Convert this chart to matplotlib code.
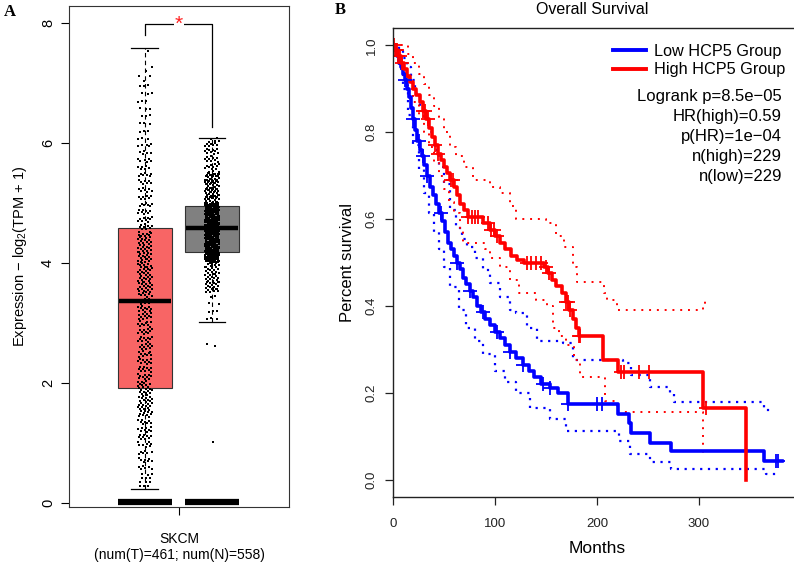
import matplotlib
matplotlib.use("Agg")
import matplotlib.pyplot as plt
from matplotlib.lines import Line2D
import numpy as np

plt.rcParams['font.family'] = ['Liberation Sans', 'DejaVu Sans']
plt.rcParams['mathtext.fontset'] = 'custom'
plt.rcParams['mathtext.rm'] = 'Liberation Sans'
plt.rcParams['mathtext.it'] = 'Liberation Sans:italic'

# ---------- panel A data (SKCM expression) ----------
groups = ['Tumor', 'Normal']
box_colors = ['#F86565', '#808080']
# q1, median, q3, whisker low, whisker high
tumor_stats = [1.92, 3.37, 4.58, 0.24, 7.58]
normal_stats = [4.18, 4.58, 4.95, 3.02, 6.08]
# binned point counts read from the jitter cloud
tumor_lo = [0.25, 0.5, 1.0, 1.5, 2.0, 2.5, 3.0, 3.5, 4.0, 4.5, 5.0, 5.5, 6.0, 6.5, 7.0, 7.5]
tumor_hi = [0.5, 1.0, 1.5, 2.0, 2.5, 3.0, 3.5, 4.0, 4.5, 5.0, 5.5, 6.0, 6.5, 7.0, 7.3, 7.58]
tumor_n = [12, 25, 35, 48, 40, 40, 42, 52, 52, 35, 28, 22, 12, 12, 5, 1]
normal_lo = [1.0, 2.6, 3.0, 3.5, 4.0, 4.5, 5.0, 5.5, 6.0]
normal_hi = [1.05, 2.75, 3.5, 4.0, 4.5, 5.0, 5.5, 6.0, 6.1]
normal_n = [1, 2, 10, 55, 170, 190, 85, 40, 5]

# ---------- panel B data (Kaplan-Meier) ----------
t_high = [0, 2, 5, 8, 11, 14, 17, 20, 23, 26, 29, 32, 35, 38, 41, 44, 47, 50, 53, 56, 60, 63, 66,
          70, 74, 88, 95, 100, 105, 110, 116, 122, 128, 148, 152, 156, 160, 166, 170, 173, 176,
          179, 182, 206, 221, 304, 346]
s_high = [1.0, 0.99, 0.975, 0.96, 0.945, 0.93, 0.915, 0.90, 0.885, 0.87, 0.85, 0.83, 0.81, 0.79,
          0.77, 0.75, 0.735, 0.72, 0.705, 0.69, 0.675, 0.655, 0.635, 0.62, 0.605, 0.59, 0.575,
          0.56, 0.545, 0.53, 0.515, 0.505, 0.50, 0.49, 0.475, 0.46, 0.445, 0.43, 0.41, 0.39, 0.37,
          0.35, 0.33, 0.275, 0.247, 0.166, 0.0]
t_low = [0, 2, 4, 6, 8, 10, 12, 14, 16, 18, 20, 22, 24, 26, 28, 30, 33, 36, 39, 42, 45, 48, 51,
         54, 57, 60, 63, 66, 69, 72, 75, 78, 82, 86, 90, 95, 100, 105, 110, 115, 121, 127, 133,
         138, 145, 154, 162, 172, 221, 231, 233, 252, 273, 364, 381]
s_low = [1.0, 0.99, 0.975, 0.96, 0.95, 0.935, 0.92, 0.90, 0.88, 0.855, 0.83, 0.805, 0.78, 0.76,
         0.745, 0.725, 0.70, 0.675, 0.655, 0.635, 0.615, 0.595, 0.57, 0.545, 0.53, 0.515, 0.50,
         0.485, 0.465, 0.45, 0.435, 0.42, 0.40, 0.385, 0.37, 0.355, 0.34, 0.325, 0.31, 0.295,
         0.28, 0.265, 0.25, 0.236, 0.22, 0.21, 0.20, 0.175, 0.152, 0.13, 0.108, 0.085, 0.065,
         0.044, 0.044]

t_high_up = [0, 10, 15, 20, 25, 30, 35, 40, 45, 50, 56, 62, 70, 78, 95, 105, 115, 121, 150, 160,
             168, 176, 180, 207, 210, 220, 304, 306, 308]
s_high_up = [1.0, 1.0, 0.98, 0.96, 0.935, 0.91, 0.885, 0.86, 0.835, 0.80, 0.765, 0.745, 0.72,
             0.69, 0.675, 0.66, 0.63, 0.60, 0.59, 0.56, 0.536, 0.49, 0.455, 0.43, 0.413, 0.39,
             0.40, 0.413, 0.413]
t_high_lo = [0, 3, 6, 10, 15, 20, 25, 30, 35, 40, 45, 50, 55, 60, 66, 69, 90, 95, 105, 115, 124,
             140, 151, 157, 163, 170, 177, 183, 208, 220, 304]
s_high_lo = [1.0, 0.975, 0.955, 0.93, 0.90, 0.87, 0.84, 0.80, 0.765, 0.73, 0.70, 0.67, 0.64,
             0.615, 0.58, 0.545, 0.53, 0.51, 0.49, 0.46, 0.43, 0.413, 0.40, 0.35, 0.33, 0.31,
             0.275, 0.236, 0.182, 0.155, 0.062]
t_low_up = [0, 3, 6, 10, 14, 18, 22, 26, 30, 35, 40, 45, 50, 56, 62, 68, 73, 80, 88, 95, 105,
            115, 121, 131, 141, 167, 176, 225, 233, 252, 272, 275, 364, 372]
s_low_up = [1.0, 1.0, 0.99, 0.97, 0.95, 0.92, 0.89, 0.86, 0.83, 0.80, 0.76, 0.72, 0.68, 0.62,
            0.58, 0.555, 0.536, 0.51, 0.483, 0.453, 0.42, 0.39, 0.383, 0.35, 0.32, 0.314, 0.275,
            0.268, 0.24, 0.213, 0.199, 0.178, 0.16, 0.16]
t_low_lo = [0, 3, 6, 10, 15, 20, 25, 30, 35, 40, 45, 50, 56, 65, 72, 80, 88, 100, 110, 121, 134,
            154, 170, 222, 232, 252, 273, 366, 376]
s_low_lo = [1.0, 0.975, 0.945, 0.90, 0.84, 0.77, 0.715, 0.66, 0.615, 0.57, 0.53, 0.49, 0.443,
            0.39, 0.35, 0.32, 0.29, 0.25, 0.225, 0.20, 0.166, 0.14, 0.113, 0.09, 0.06, 0.04,
            0.025, 0.014, 0.014]

cens_high = [1, 2, 3, 4, 5, 7, 9, 29, 31, 34, 41, 44, 57, 59, 74, 77, 80, 83, 93, 96, 99, 102,
             131, 135, 140, 145, 150, 153, 170, 172, 174, 182, 183, 224, 226, 241, 251, 307]
cens_low = [3, 12, 20, 25, 29, 33, 47, 63, 75, 88, 102, 115, 127, 147, 154, 172, 200, 205,
            375, 377]

stats_lines = ['Logrank p=8.5e\u221205', 'HR(high)=0.59', 'p(HR)=1e\u221204',
               'n(high)=229', 'n(low)=229']

W, H = 794, 569
fig = plt.figure(figsize=(W / 100, H / 100), dpi=100)


def box(l, t, r, b):
    return [l / W, 1 - b / H, (r - l) / W, (b - t) / H]


# ================= panel A =================
axA = fig.add_axes(box(69, 6, 289, 507))
axA.set_xlim(0, 1)
axA.set_ylim(-0.067, 8.28)
centers = [0.345, 0.65]
bw = 0.245

for c, col, st in zip(centers, box_colors, [tumor_stats, normal_stats]):
    q1, med, q3, wlo, whi = st
    axA.add_patch(plt.Rectangle((c - bw / 2, q1), bw, q3 - q1, facecolor=col,
                                edgecolor='#333333', lw=0.8, zorder=2))
    axA.plot([c, c], [q3, whi], color='black', lw=0.8, ls=(0, (4, 3)), zorder=2)
    axA.plot([c, c], [wlo, q1], color='black', lw=0.8, ls=(0, (4, 3)), zorder=2)
    axA.plot([c - bw / 4, c + bw / 4], [whi, whi], color='black', lw=0.9, zorder=2)
    axA.plot([c - bw / 4, c + bw / 4], [wlo, wlo], color='black', lw=0.9, zorder=2)
    axA.plot([c - bw / 2 + 0.005, c + bw / 2 - 0.005], [med, med], color='black', lw=3.2,
             solid_capstyle='butt', zorder=4)
    axA.plot([c - bw / 2, c + bw / 2], [0.02, 0.02], color='black', lw=4.5,
             solid_capstyle='butt', zorder=2)

# jittered points (quasi-random placement within each bin)
for c, los, his, ns in [(centers[0], tumor_lo, tumor_hi, tumor_n),
                        (centers[1], normal_lo, normal_hi, normal_n)]:
    xs, ys = [], []
    k = 0
    for lo, hi, n in zip(los, his, ns):
        for j in range(n):
            k += 1
            ys.append(lo + ((j * 0.7548776662 + 0.37) % 1.0) * (hi - lo))
            xs.append(c + (((k * 0.5698402910) % 1.0) - 0.5) * 0.066)
    axA.plot(xs, ys, 's', color='black', ms=1.6, mew=0, zorder=3)

# significance bracket
axA.plot([centers[0], centers[0], centers[1], centers[1]], [7.8, 7.98, 7.98, 6.27],
         color='black', lw=0.9)
axA.text(0.5, 7.98, '*', color='#FF2020', fontsize=15, ha='center', va='center',
         bbox=dict(facecolor='white', edgecolor='none', pad=0.5))

axA.set_yticks([0, 2, 4, 6, 8])
axA.tick_params(axis='y', labelrotation=90, labelsize=10.5, length=6, width=0.8, pad=4)
for lab in axA.get_yticklabels():
    lab.set_va('center')
axA.set_xticks([0.5])
axA.set_xticklabels(['SKCM\n(num(T)=461; num(N)=558)'])
axA.tick_params(axis='x', labelsize=10, length=6, width=0.8, pad=12)
axA.set_ylabel('Expression $-$ log$_2$(TPM + 1)', fontsize=10.5, labelpad=9)
for sp in axA.spines.values():
    sp.set_linewidth(0.8)
    sp.set_color('#333333')
fig.text(10 / W, 1 - 12 / H, 'A', fontsize=12, fontweight='bold', family='Liberation Serif',
         ha='center', va='center')

# ================= panel B =================
axB = fig.add_axes(box(393, 28, 393 + 1.02 * 400, 497))
axB.set_xlim(0, 400)
axB.set_ylim(-0.04, 1.04)

axB.step(t_low_up, s_low_up, where='post', color='blue', lw=1.6, ls=(0, (1, 2.5)))
axB.step(t_low_lo, s_low_lo, where='post', color='blue', lw=1.6, ls=(0, (1, 2.5)))
axB.step(t_high_up, s_high_up, where='post', color='red', lw=1.4, ls=(0, (1, 3)))
axB.step(t_high_lo, s_high_lo, where='post', color='red', lw=1.4, ls=(0, (1, 3)))
axB.step(t_low, s_low, where='post', color='blue', lw=2.6)
axB.step(t_high, s_high, where='post', color='red', lw=2.6)

for cens, t, s, col in [(cens_low, t_low, s_low, 'blue'), (cens_high, t_high, s_high, 'red')]:
    idx = np.searchsorted(t, cens, side='right') - 1
    axB.plot(cens, np.array(s)[idx], '+', color=col, ms=10.5, mew=1.3)

axB.set_xticks([0, 100, 200, 300])
axB.set_yticks([0.0, 0.2, 0.4, 0.6, 0.8, 1.0])
axB.set_yticklabels(['0.0', '0.2', '0.4', '0.6', '0.8', '1.0'])
axB.tick_params(axis='both', labelsize=9.5, length=6, width=0.9, colors='#222222')
axB.tick_params(axis='y', labelrotation=90, pad=5)
for lab in axB.get_yticklabels():
    lab.set_va('center')
axB.tick_params(axis='x', pad=9)
axB.set_xlabel('Months', fontsize=12.5, labelpad=8)
axB.set_ylabel('Percent survival', fontsize=12, labelpad=8)
for sp in axB.spines.values():
    sp.set_linewidth(1.0)
    sp.set_color('#222222')
fig.text(592 / W, 1 - 10 / H, 'Overall Survival', fontsize=11.5, ha='center', va='center')
fig.text(340 / W, 1 - 10 / H, 'B', fontsize=12, fontweight='bold', family='Liberation Serif',
         ha='center', va='center')

handles = [Line2D([], [], color='blue', lw=2.8), Line2D([], [], color='red', lw=2.8)]
axB.legend(handles, ['Low HCP5 Group', 'High HCP5 Group'], loc='upper right',
           bbox_to_anchor=(785 / W, 1 - 44 / H), bbox_transform=fig.transFigure,
           frameon=False, fontsize=11.7, handlelength=2.0, handletextpad=0.5,
           borderaxespad=0, borderpad=0, labelspacing=0.2)
for i, s in enumerate(stats_lines):
    fig.text(782 / W, 1 - (97 + 20 * i) / H, s, fontsize=12, ha='right', va='center')

fig.savefig('out.png', dpi=100)
